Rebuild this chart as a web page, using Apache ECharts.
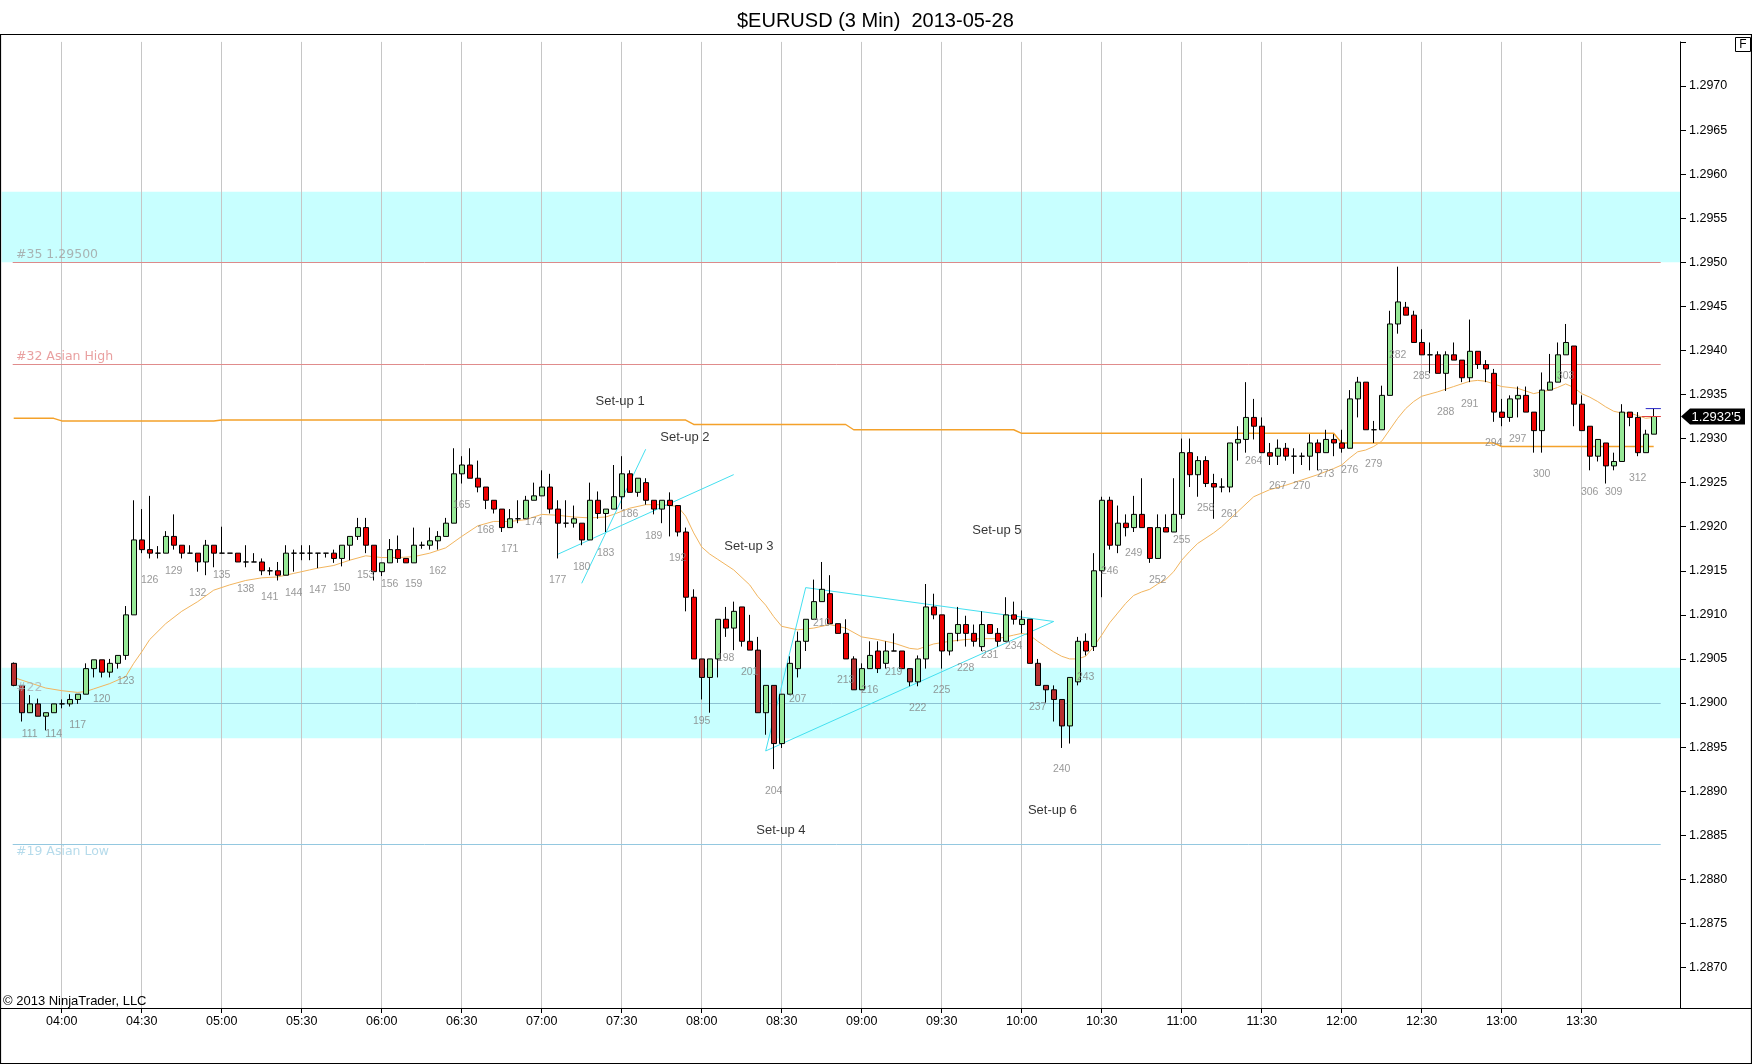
<!DOCTYPE html>
<html>
<head>
<meta charset="utf-8">
<script src="https://cdn.jsdelivr.net/npm/echarts@6/dist/echarts.min.js"></script>
<style>
html,body{margin:0;padding:0;background:#fff;}
#chart{width:1752px;height:1064px;}
</style>
</head>
<body>
<div id="chart"></div>
<script>
// ---------------- DATA ----------------
const chartTitle = '$EURUSD (3 Min)  2013-05-28';
const firstBar = 109;   // bar number of the first candle
const opens = [
1.29045,1.29020,1.28989,1.28999,1.28985,1.28989,1.28999,1.28999,1.29004,1.29010,
1.29039,1.29049,1.29035,1.29045,1.29054,1.29100,1.29185,1.29174,1.29170,1.29170,
1.29189,1.29179,1.29170,1.29170,1.29160,1.29179,1.29170,1.29170,1.29170,1.29160,
1.29160,1.29160,1.29150,1.29150,1.29145,1.29170,1.29170,1.29170,1.29170,1.29170,
1.29170,1.29164,1.29179,1.29189,1.29199,1.29179,1.29149,1.29159,1.29174,1.29164,
1.29159,1.29179,1.29179,1.29184,1.29189,1.29204,1.29260,1.29270,1.29255,1.29245,
1.29230,1.29220,1.29199,1.29209,1.29209,1.29230,1.29235,1.29245,1.29220,1.29204,
1.29204,1.29204,1.29185,1.29230,1.29215,1.29220,1.29234,1.29260,1.29239,1.29250,
1.29230,1.29220,1.29230,1.29224,1.29194,1.29120,1.29050,1.29029,1.29050,1.29095,
1.29085,1.29109,1.29070,1.29060,1.28989,1.29020,1.28954,1.29010,1.29039,1.29070,
1.29095,1.29115,1.29124,1.29090,1.29079,1.29050,1.29015,1.29039,1.29059,1.29045,
1.29059,1.29059,1.29039,1.29024,1.29050,1.29109,1.29100,1.29059,1.29079,1.29089,
1.29079,1.29064,1.29089,1.29079,1.29070,1.29100,1.29089,1.29095,1.29045,1.29020,
1.29015,1.29004,1.28974,1.29024,1.29070,1.29064,1.29150,1.29230,1.29179,1.29204,
1.29199,1.29214,1.29199,1.29164,1.29199,1.29194,1.29214,1.29284,1.29259,1.29275,
1.29249,1.29245,1.29245,1.29295,1.29299,1.29324,1.29314,1.29284,1.29280,1.29289,
1.29280,1.29280,1.29280,1.29295,1.29284,1.29299,1.29295,1.29289,1.29345,1.29364,
1.29310,1.29310,1.29349,1.29430,1.29449,1.29440,1.29409,1.29395,1.29395,1.29374,
1.29395,1.29389,1.29369,1.29399,1.29384,1.29374,1.29330,1.29324,1.29345,1.29349,
1.29330,1.29309,1.29355,1.29364,1.29395,1.29405,1.29339,1.29314,1.29280,1.29295,
1.29269,1.29274,1.29330,1.29324,1.29284,1.29305
];
const highs = [
1.29046,1.29020,1.29009,1.29005,1.28989,1.28999,1.29004,1.29010,1.29010,1.29045,
1.29049,1.29049,1.29050,1.29054,1.29110,1.29230,1.29220,1.29235,1.29178,1.29195,
1.29214,1.29179,1.29179,1.29170,1.29185,1.29179,1.29200,1.29170,1.29170,1.29179,
1.29170,1.29164,1.29154,1.29160,1.29179,1.29174,1.29179,1.29179,1.29170,1.29170,
1.29174,1.29179,1.29189,1.29210,1.29210,1.29179,1.29159,1.29186,1.29190,1.29164,
1.29199,1.29183,1.29199,1.29195,1.29210,1.29289,1.29280,1.29289,1.29275,1.29245,
1.29230,1.29220,1.29220,1.29230,1.29235,1.29250,1.29264,1.29260,1.29230,1.29230,
1.29224,1.29204,1.29250,1.29240,1.29220,1.29270,1.29280,1.29264,1.29255,1.29255,
1.29230,1.29230,1.29239,1.29224,1.29199,1.29129,1.29050,1.29050,1.29095,1.29109,
1.29115,1.29109,1.29100,1.29075,1.29020,1.29020,1.29010,1.29053,1.29081,1.29095,
1.29140,1.29160,1.29145,1.29090,1.29095,1.29053,1.29045,1.29070,1.29070,1.29070,
1.29079,1.29059,1.29039,1.29054,1.29135,1.29124,1.29100,1.29079,1.29109,1.29099,
1.29089,1.29104,1.29089,1.29085,1.29120,1.29115,1.29105,1.29095,1.29050,1.29020,
1.29020,1.29004,1.29029,1.29075,1.29079,1.29170,1.29234,1.29234,1.29224,1.29214,
1.29235,1.29255,1.29199,1.29214,1.29214,1.29255,1.29300,1.29300,1.29280,1.29280,
1.29260,1.29255,1.29295,1.29314,1.29364,1.29345,1.29324,1.29295,1.29299,1.29295,
1.29289,1.29284,1.29305,1.29299,1.29310,1.29305,1.29310,1.29355,1.29370,1.29364,
1.29320,1.29360,1.29445,1.29495,1.29455,1.29445,1.29424,1.29409,1.29399,1.29399,
1.29409,1.29389,1.29435,1.29399,1.29389,1.29379,1.29345,1.29349,1.29359,1.29359,
1.29330,1.29375,1.29396,1.29409,1.29430,1.29405,1.29349,1.29314,1.29299,1.29295,
1.29284,1.29339,1.29330,1.29330,1.29310,1.29334
];
const lows = [
1.29019,1.28979,1.28989,1.28985,1.28969,1.28989,1.28994,1.28996,1.28999,1.29010,
1.29029,1.29029,1.29029,1.29039,1.29049,1.29100,1.29170,1.29164,1.29164,1.29170,
1.29174,1.29164,1.29170,1.29149,1.29145,1.29154,1.29170,1.29170,1.29160,1.29154,
1.29160,1.29145,1.29145,1.29139,1.29145,1.29149,1.29162,1.29162,1.29153,1.29165,
1.29159,1.29155,1.29162,1.29185,1.29170,1.29139,1.29144,1.29159,1.29159,1.29159,
1.29159,1.29175,1.29174,1.29174,1.29189,1.29204,1.29249,1.29255,1.29239,1.29220,
1.29215,1.29194,1.29199,1.29204,1.29209,1.29230,1.29235,1.29215,1.29164,1.29199,
1.29199,1.29179,1.29185,1.29209,1.29194,1.29220,1.29220,1.29239,1.29234,1.29225,
1.29214,1.29204,1.29189,1.29189,1.29104,1.29050,1.29004,1.28989,1.29029,1.29075,
1.29060,1.29064,1.29060,1.28989,1.28964,1.28925,1.28949,1.29010,1.29029,1.29059,
1.29095,1.29115,1.29090,1.29079,1.29050,1.29015,1.29015,1.29039,1.29034,1.29039,
1.29059,1.29039,1.29019,1.29019,1.29039,1.29095,1.29039,1.29054,1.29070,1.29064,
1.29064,1.29059,1.29079,1.29064,1.29070,1.29089,1.29079,1.29045,1.29020,1.29000,
1.28979,1.28949,1.28954,1.29020,1.29054,1.29059,1.29120,1.29174,1.29170,1.29189,
1.29194,1.29199,1.29159,1.29164,1.29194,1.29194,1.29209,1.29245,1.29234,1.29245,
1.29209,1.29239,1.29239,1.29275,1.29284,1.29299,1.29284,1.29270,1.29270,1.29275,
1.29260,1.29270,1.29264,1.29264,1.29284,1.29280,1.29284,1.29289,1.29324,1.29310,
1.29295,1.29310,1.29349,1.29419,1.29440,1.29409,1.29395,1.29374,1.29374,1.29354,
1.29389,1.29364,1.29364,1.29379,1.29364,1.29319,1.29314,1.29319,1.29324,1.29330,
1.29284,1.29284,1.29355,1.29364,1.29395,1.29314,1.29309,1.29264,1.29274,1.29249,
1.29264,1.29274,1.29314,1.29280,1.29284,1.29305
];
const closes = [
1.29020,1.28989,1.28999,1.28985,1.28989,1.28999,1.28999,1.29004,1.29010,1.29039,
1.29049,1.29035,1.29045,1.29054,1.29100,1.29185,1.29174,1.29170,1.29170,1.29189,
1.29179,1.29170,1.29170,1.29160,1.29179,1.29170,1.29170,1.29170,1.29160,1.29160,
1.29160,1.29150,1.29150,1.29145,1.29170,1.29170,1.29170,1.29170,1.29170,1.29170,
1.29164,1.29179,1.29189,1.29199,1.29179,1.29149,1.29159,1.29174,1.29164,1.29159,
1.29179,1.29179,1.29184,1.29189,1.29204,1.29260,1.29270,1.29255,1.29245,1.29230,
1.29220,1.29199,1.29209,1.29209,1.29230,1.29235,1.29245,1.29220,1.29204,1.29204,
1.29209,1.29185,1.29230,1.29215,1.29220,1.29234,1.29260,1.29239,1.29255,1.29230,
1.29220,1.29230,1.29224,1.29194,1.29120,1.29050,1.29029,1.29050,1.29095,1.29085,
1.29104,1.29070,1.29060,1.28989,1.29020,1.28954,1.29010,1.29045,1.29070,1.29095,
1.29115,1.29129,1.29090,1.29079,1.29050,1.29015,1.29039,1.29054,1.29039,1.29059,
1.29059,1.29039,1.29024,1.29050,1.29109,1.29100,1.29059,1.29079,1.29089,1.29079,
1.29070,1.29089,1.29079,1.29070,1.29100,1.29095,1.29095,1.29045,1.29020,1.29015,
1.29004,1.28974,1.29029,1.29070,1.29059,1.29150,1.29230,1.29179,1.29204,1.29199,
1.29214,1.29199,1.29164,1.29199,1.29194,1.29214,1.29284,1.29259,1.29275,1.29249,
1.29245,1.29245,1.29295,1.29299,1.29324,1.29314,1.29284,1.29280,1.29289,1.29280,
1.29280,1.29280,1.29295,1.29284,1.29299,1.29295,1.29289,1.29345,1.29364,1.29310,
1.29310,1.29349,1.29430,1.29455,1.29440,1.29409,1.29395,1.29395,1.29374,1.29395,
1.29389,1.29369,1.29399,1.29384,1.29379,1.29330,1.29324,1.29345,1.29349,1.29330,
1.29309,1.29355,1.29364,1.29395,1.29409,1.29339,1.29309,1.29280,1.29299,1.29269,
1.29274,1.29330,1.29324,1.29284,1.29305,1.29325
];
// moving-average line, read at these bars: [bar, price]
const maPoints = [
[109,1.29029],[111,1.29023],[113,1.29017],[115,1.29014],[117,1.29012],[118,1.29013],[119,1.29016],[121,1.29022],
[123,1.29030],[124,1.29045],[125,1.29058],[126,1.29072],[128,1.29090],[130,1.29104],[132,1.29115],[134,1.29128],
[136,1.29134],[138,1.29139],[140,1.29142],[142,1.29143],[144,1.29147],[146,1.29151],[147,1.29153],[149,1.29156],
[151,1.29162],[153,1.29167],[155,1.29165],[157,1.29165],[159,1.29166],[161,1.29170],[163,1.29176],[165,1.29189],
[167,1.29201],[169,1.29206],[171,1.29206],[173,1.29208],[175,1.29214],[177,1.29213],[179,1.29211],[181,1.29210],
[183,1.29211],[184,1.29214],[186,1.29221],[188,1.29225],[190,1.29225],[192,1.29223],[193,1.29212],[194,1.29193],
[195,1.29177],[196,1.29169],[197,1.29163],[199,1.29151],[201,1.29134],[202,1.29121],[203,1.29111],[204,1.29098],
[205,1.29087],[207,1.29083],[209,1.29085],[211,1.29089],[213,1.29085],[215,1.29075],[217,1.29072],[219,1.29068],
[221,1.29062],[222,1.29061],[223,1.29064],[224,1.29067],[226,1.29070],[228,1.29072],[230,1.29073],[232,1.29073],
[234,1.29077],[235,1.29079],[236,1.29077],[237,1.29070],[238,1.29064],[239,1.29058],[240,1.29053],[241,1.29050],
[242,1.29050],[243,1.29053],[244,1.29064],[245,1.29077],[246,1.29091],[247,1.29102],[248,1.29113],[249,1.29122],
[250,1.29126],[251,1.29129],[252,1.29135],[253,1.29140],[254,1.29149],[255,1.29162],[256,1.29172],[257,1.29181],
[259,1.29193],[260,1.29200],[262,1.29217],[264,1.29234],[266,1.29242],[268,1.29247],[270,1.29253],[272,1.29259],
[274,1.29266],[275,1.29270],[276,1.29278],[277,1.29285],[278,1.29287],[279,1.29291],[280,1.29297],[281,1.29310],
[282,1.29323],[283,1.29334],[284,1.29342],[285,1.29348],[287,1.29353],[289,1.29359],[291,1.29365],[292,1.29366],
[293,1.29365],[294,1.29362],[295,1.29359],[297,1.29357],[299,1.29351],[301,1.29355],[302,1.29358],[303,1.29362],
[304,1.29358],[305,1.29351],[306,1.29347],[307,1.29342],[308,1.29336],[309,1.29331],[310,1.29329],[311,1.29329],
[312,1.29326],[313,1.29323],[314,1.29324]
];
// stepped level line: value holds from each start bar until the next start
const stepStarts = [109, 115, 135, 194, 214, 235, 275, 295];
const stepValues = [1.29323, 1.29320, 1.29321, 1.29316, 1.29310, 1.29306, 1.29295, 1.29291];
// time axis
const timeTickBars = [115,125,135,145,155,165,175,185,195,205,215,225,235,245,255,265,275,285,295,305];
const timeLabels = ['04:00','04:30','05:00','05:30','06:00','06:30','07:00','07:30','08:00','08:30',
                    '09:00','09:30','10:00','10:30','11:00','11:30','12:00','12:30','13:00','13:30'];
// price axis
const priceTicks = [1.2870,1.2875,1.2880,1.2885,1.2890,1.2895,1.2900,1.2905,1.2910,1.2915,1.2920,
                    1.2925,1.2930,1.2935,1.2940,1.2945,1.2950,1.2955,1.2960,1.2965,1.2970];
const priceTopTick = 1.2975;
// shaded zones [low, high]
const zones = [[1.2950, 1.2958], [1.2896, 1.2904]];
// horizontal levels
const levelPrices = [1.29500, 1.29384, 1.28840, 1.29000];
const levelTexts  = ['#35 1.29500', '#32 Asian High', '#19 Asian Low', '#22'];
const levelStartBar = 108.875, levelEndBar = 314.875;
// drawn trend lines [bar, price]
const setup2LineA = [[180.0, 1.291358], [188.0, 1.292879]];
const setup2LineB = [[177.0, 1.291687], [199.0, 1.292591]];
const setup4Triangle = [[203.0, 1.289456], [208.0, 1.291309], [239.0, 1.290925], [203.0, 1.289456]];
// notes
const noteBars   = [184.8, 192.9, 200.9, 204.9, 231.9, 238.85];
const notePrices = [1.293427, 1.293018, 1.291782, 1.288560, 1.291963, 1.288787];
const noteTexts  = ['Set-up 1', 'Set-up 2', 'Set-up 3', 'Set-up 4', 'Set-up 5', 'Set-up 6'];
// bid / ask marks at the last bar
const askMark = [[313.0, 1.29334], [314.9, 1.29334]];
const bidMark = [[312.5, 1.29325], [314.9, 1.29325]];

// ---------------- BUILD ----------------
const SANS = '"Liberation Sans", Arial, sans-serif';
const TAGFONT = '"DejaVu Sans", Verdana, sans-serif';
const X_MIN = 107.5, X_MAX = 317.29, Y_MIN = 1.28654, Y_MAX = 1.2975;
const darkBelow = 1.29033;

const candleData = opens.map((o, i) => {
  const c = closes[i];
  const item = { value: [firstBar + i, o, c, lows[i], highs[i]] };
  if (c < o && c < darkBelow) item.itemStyle = { color0: '#b83030' };
  return item;
});

const barLabelData = [];
opens.forEach((o, i) => {
  const bar = firstBar + i;
  if (bar % 3 === 0) barLabelData.push([bar, lows[i]]);
});

const stepPoints = [];
const lastBar = firstBar + opens.length - 1;
stepStarts.forEach((s, k) => {
  const end = k + 1 < stepStarts.length ? stepStarts[k + 1] - 1 : lastBar;
  stepPoints.push([s, stepValues[k]]);
  stepPoints.push([end, stepValues[k]]);
});

const levelColors = ['#dc8a8a', '#e08c8c', '#94c8e0', '#8cc2d2'];
const tagColors   = ['#a0a0a0', '#e48888', '#a4d2e6', '#a8b0b6'];
const tagOffsets  = [[0, -8], [0, -8], [0, 8], [0, -15]];

const levelLineData = levelPrices.map((p, k) => [
  { coord: [k === 3 ? X_MIN : levelStartBar, p], lineStyle: { color: levelColors[k], width: 1, type: 'solid' } },
  { coord: [levelEndBar, p] }
]);
const tagData = levelPrices.map((p, k) => ({
  value: [levelStartBar, p],
  label: { formatter: levelTexts[k], color: tagColors[k], offset: tagOffsets[k] }
}));
const noteData = noteBars.map((b, k) => ({ value: [b, notePrices[k]], label: { formatter: noteTexts[k] } }));

const cyan = '#44e0f0';
function trend(data, name) {
  return { name, type: 'line', data, z: 5, showSymbol: false, symbol: 'none', silent: true,
           lineStyle: { color: cyan, width: 1 }, animation: false };
}

const option = {
  animation: false,
  backgroundColor: '#ffffff',
  title: {
    text: chartTitle, left: 732, top: 6,
    textStyle: { fontFamily: SANS, fontSize: 20, fontWeight: 'normal', color: '#000' }
  },
  grid: { left: 1.7, right: 72, top: 41.9, bottom: 56, containLabel: false },
  xAxis: {
    type: 'value', min: X_MIN, max: X_MAX,
    axisLine: { show: false },
    axisTick: { show: true, customValues: timeTickBars, length: 5, lineStyle: { color: '#000' } },
    axisLabel: {
      show: true, customValues: timeTickBars, margin: 7,
      fontFamily: SANS, fontSize: 12.5, color: '#000',
      formatter: v => { const k = timeTickBars.indexOf(Math.round(v)); return k >= 0 ? timeLabels[k] : ''; }
    },
    splitLine: { show: false }
  },
  yAxis: {
    type: 'value', position: 'right', min: Y_MIN, max: Y_MAX,
    axisLine: { show: true, lineStyle: { color: '#000', width: 1 } },
    axisTick: { show: true, customValues: priceTicks.concat([priceTopTick]), length: 6, inside: false, lineStyle: { color: '#000' } },
    axisLabel: {
      show: true, customValues: priceTicks, margin: 9,
      fontFamily: SANS, fontSize: 12.5, color: '#000',
      formatter: v => v.toFixed(4)
    },
    splitLine: { show: false }
  },
  series: [
    { name: 'zones', type: 'line', data: [], silent: true,
      markArea: { silent: true, z: 1, itemStyle: { color: '#c8ffff' },
        data: zones.map(zn => [{ yAxis: zn[0] }, { yAxis: zn[1] }]) } },
    { name: 'timeGrid', type: 'line', data: [], silent: true,
      markLine: { silent: true, z: 2, symbol: ['none', 'none'], label: { show: false },
        lineStyle: { color: '#c6c6c6', width: 1, type: 'solid' },
        data: timeTickBars.map(b => ({ xAxis: b })) } },
    { name: 'levels', type: 'line', data: [], silent: true,
      markLine: { silent: true, z: 3, symbol: ['none', 'none'], label: { show: false }, data: levelLineData } },
    { name: 'step', type: 'line', data: stepPoints, z: 4, showSymbol: false, symbol: 'none', silent: true,
      lineStyle: { color: '#f4a12a', width: 1.4 } },
    { name: 'ma', type: 'line', data: maPoints, z: 4, showSymbol: false, symbol: 'none', silent: true,
      lineStyle: { color: '#f2b55e', width: 1 } },
    trend(setup2LineA, 'trendA'),
    trend(setup2LineB, 'trendB'),
    trend(setup4Triangle, 'triangle'),
    { name: 'EURUSD', type: 'candlestick', z: 6, silent: true,
      dimensions: ['bar', 'open', 'close', 'lowest', 'highest'],
      encode: { x: 'bar', y: ['open', 'close', 'lowest', 'highest'] },
      data: candleData, barWidth: 5.6,
      itemStyle: { color: '#96e896', color0: '#ee0000', borderColor: '#000', borderColor0: '#000', borderWidth: 1 } },
    { name: 'ask', type: 'line', data: askMark, z: 7, showSymbol: false, symbol: 'none', silent: true,
      lineStyle: { color: '#2828c8', width: 1 } },
    { name: 'bid', type: 'line', data: bidMark, z: 7, showSymbol: false, symbol: 'none', silent: true,
      lineStyle: { color: '#e04040', width: 1 } },
    { name: 'barNumbers', type: 'scatter', data: barLabelData, z: 8, symbolSize: 0, silent: true,
      label: { show: true, position: 'bottom', distance: 16, color: '#808080', fontFamily: SANS, fontSize: 10.5,
               formatter: p => String(p.value[0]) } },
    { name: 'tags', type: 'scatter', data: tagData, z: 8, symbolSize: 0, silent: true,
      label: { show: true, position: 'right', distance: 3.3, fontFamily: TAGFONT, fontSize: 12.5 } },
    { name: 'notes', type: 'scatter', data: noteData, z: 8, symbolSize: 0, silent: true,
      label: { show: true, position: 'inside', color: '#000', fontFamily: SANS, fontSize: 13 } }
  ]
};

const chart = echarts.init(document.getElementById('chart'), null, { renderer: 'canvas' });
chart.setOption(option);

const lastClose = closes[closes.length - 1];
const tagY = chart.convertToPixel({ yAxisIndex: 0 }, lastClose);
const s5 = lastClose.toFixed(5);
const priceTagText = s5.slice(0, -1) + "'" + s5.slice(-1);

chart.setOption({
  graphic: [
    { type: 'line', silent: true, z: 50, shape: { x1: 0, y1: 1008.5, x2: 1752, y2: 1008.5 },
      style: { stroke: '#000', lineWidth: 1 } },
    { type: 'rect', silent: true, z: 50, shape: { x: 0.5, y: 34.5, width: 1751, height: 1029 },
      style: { fill: 'none', stroke: '#000', lineWidth: 1.2 } },
    { type: 'rect', silent: true, z: 50, shape: { x: 1735.5, y: 37.5, width: 15, height: 14 },
      style: { fill: '#fff', stroke: '#000', lineWidth: 1 } },
    { type: 'text', silent: true, z: 51, x: 1743, y: 44.8,
      style: { text: 'F', fill: '#000', font: '12px ' + SANS, align: 'center', verticalAlign: 'middle' } },
    { type: 'text', silent: true, z: 51, x: 3, y: 1001,
      style: { text: '\u00A9 2013 NinjaTrader, LLC', fill: '#000', font: '13px ' + SANS, align: 'left', verticalAlign: 'middle' } },
    { type: 'polygon', silent: true, z: 52,
      shape: { points: [[1681, tagY], [1690, tagY - 8], [1745, tagY - 8], [1745, tagY + 8], [1690, tagY + 8]] },
      style: { fill: '#000' } },
    { type: 'text', silent: true, z: 53, x: 1691.5, y: tagY + 0.5,
      style: { text: priceTagText, fill: '#fff', font: '13px ' + SANS, align: 'left', verticalAlign: 'middle' } }
  ]
});
</script>
</body>
</html>
